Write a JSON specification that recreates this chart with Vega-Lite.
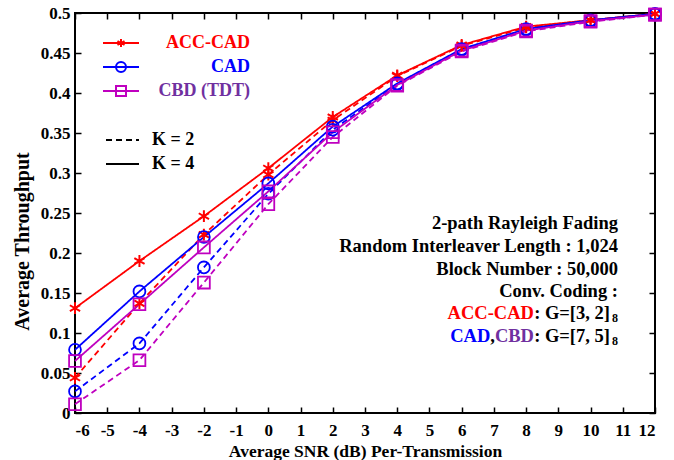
{
  "$schema": "https://vega.github.io/schema/vega-lite/v6.json",
  "width": 580,
  "height": 400,
  "autosize": "none",
  "padding": {"left": 75, "top": 13, "right": 19, "bottom": 47},
  "background": "white",
  "config": {
    "font": "Liberation Serif",
    "view": {"stroke": "black", "strokeWidth": 2},
    "axis": {"grid": false, "domain": false, "tickColor": "black", "tickWidth": 1.5, "tickSize": -6,
             "labelFont": "Liberation Serif", "labelFontWeight": "bold", "labelFontSize": 17, "labelColor": "black",
             "titleFont": "Liberation Serif", "titleFontWeight": "bold", "titleColor": "black"}
  },
  "data": {"values": [
    {"s": "ACC-CAD", "K": 4, "x": -6, "y": 0.131},
    {"s": "ACC-CAD", "K": 4, "x": -4, "y": 0.19},
    {"s": "ACC-CAD", "K": 4, "x": -2, "y": 0.246},
    {"s": "ACC-CAD", "K": 4, "x": 0, "y": 0.306},
    {"s": "ACC-CAD", "K": 4, "x": 2, "y": 0.37},
    {"s": "ACC-CAD", "K": 4, "x": 4, "y": 0.422},
    {"s": "ACC-CAD", "K": 4, "x": 6, "y": 0.46},
    {"s": "ACC-CAD", "K": 4, "x": 8, "y": 0.483},
    {"s": "ACC-CAD", "K": 4, "x": 10, "y": 0.491},
    {"s": "ACC-CAD", "K": 4, "x": 12, "y": 0.499},
    {"s": "ACC-CAD", "K": 2, "x": -6, "y": 0.044},
    {"s": "ACC-CAD", "K": 2, "x": -4, "y": 0.137},
    {"s": "ACC-CAD", "K": 2, "x": -2, "y": 0.223},
    {"s": "ACC-CAD", "K": 2, "x": 0, "y": 0.298},
    {"s": "ACC-CAD", "K": 2, "x": 2, "y": 0.366},
    {"s": "ACC-CAD", "K": 2, "x": 4, "y": 0.421},
    {"s": "ACC-CAD", "K": 2, "x": 6, "y": 0.459},
    {"s": "ACC-CAD", "K": 2, "x": 8, "y": 0.482},
    {"s": "ACC-CAD", "K": 2, "x": 10, "y": 0.491},
    {"s": "ACC-CAD", "K": 2, "x": 12, "y": 0.499},
    {"s": "CAD", "K": 4, "x": -6, "y": 0.079},
    {"s": "CAD", "K": 4, "x": -4, "y": 0.152},
    {"s": "CAD", "K": 4, "x": -2, "y": 0.22},
    {"s": "CAD", "K": 4, "x": 0, "y": 0.287},
    {"s": "CAD", "K": 4, "x": 2, "y": 0.358},
    {"s": "CAD", "K": 4, "x": 4, "y": 0.412},
    {"s": "CAD", "K": 4, "x": 6, "y": 0.455},
    {"s": "CAD", "K": 4, "x": 8, "y": 0.48},
    {"s": "CAD", "K": 4, "x": 10, "y": 0.491},
    {"s": "CAD", "K": 4, "x": 12, "y": 0.499},
    {"s": "CAD", "K": 2, "x": -6, "y": 0.027},
    {"s": "CAD", "K": 2, "x": -4, "y": 0.087},
    {"s": "CAD", "K": 2, "x": -2, "y": 0.182},
    {"s": "CAD", "K": 2, "x": 0, "y": 0.274},
    {"s": "CAD", "K": 2, "x": 2, "y": 0.354},
    {"s": "CAD", "K": 2, "x": 4, "y": 0.411},
    {"s": "CAD", "K": 2, "x": 6, "y": 0.454},
    {"s": "CAD", "K": 2, "x": 8, "y": 0.479},
    {"s": "CAD", "K": 2, "x": 10, "y": 0.49},
    {"s": "CAD", "K": 2, "x": 12, "y": 0.498},
    {"s": "CBD (TDT)", "K": 4, "x": -6, "y": 0.065},
    {"s": "CBD (TDT)", "K": 4, "x": -4, "y": 0.136},
    {"s": "CBD (TDT)", "K": 4, "x": -2, "y": 0.207},
    {"s": "CBD (TDT)", "K": 4, "x": 0, "y": 0.277},
    {"s": "CBD (TDT)", "K": 4, "x": 2, "y": 0.351},
    {"s": "CBD (TDT)", "K": 4, "x": 4, "y": 0.41},
    {"s": "CBD (TDT)", "K": 4, "x": 6, "y": 0.453},
    {"s": "CBD (TDT)", "K": 4, "x": 8, "y": 0.478},
    {"s": "CBD (TDT)", "K": 4, "x": 10, "y": 0.49},
    {"s": "CBD (TDT)", "K": 4, "x": 12, "y": 0.498},
    {"s": "CBD (TDT)", "K": 2, "x": -6, "y": 0.011},
    {"s": "CBD (TDT)", "K": 2, "x": -4, "y": 0.066},
    {"s": "CBD (TDT)", "K": 2, "x": -2, "y": 0.163},
    {"s": "CBD (TDT)", "K": 2, "x": 0, "y": 0.261},
    {"s": "CBD (TDT)", "K": 2, "x": 2, "y": 0.345},
    {"s": "CBD (TDT)", "K": 2, "x": 4, "y": 0.409},
    {"s": "CBD (TDT)", "K": 2, "x": 6, "y": 0.452},
    {"s": "CBD (TDT)", "K": 2, "x": 8, "y": 0.477},
    {"s": "CBD (TDT)", "K": 2, "x": 10, "y": 0.489},
    {"s": "CBD (TDT)", "K": 2, "x": 12, "y": 0.498}
  ]},
  "resolve": {"axis": {"x": "independent", "y": "independent"}},
  "layer": [
    {
      "mark": {"type": "line", "strokeWidth": 1.8},
      "encoding": {
        "x": {"field": "x", "type": "quantitative", "scale": {"domain": [-6, 12], "nice": false, "zero": false},
              "axis": {"orient": "bottom", "values": [-6,-5,-4,-3,-2,-1,0,1,2,3,4,5,6,7,8,9,10,11,12], "labelPadding": 15,
                       "labelExpr": "datum.value < 0 ? '-' + abs(datum.value) : '' + datum.value",
                       "title": "Average SNR (dB) Per-Transmission", "titleFontSize": 17.5, "titleY": 38, "titleBaseline": "middle"}},
        "y": {"field": "y", "type": "quantitative", "scale": {"domain": [0, 0.5], "nice": false},
              "axis": {"orient": "left", "values": [0,0.05,0.1,0.15,0.2,0.25,0.3,0.35,0.4,0.45,0.5], "format": "~g", "labelPadding": 11,
                       "title": "Average Throughput", "titleFontSize": 20, "titleX": -53, "titleY": 228, "titleBaseline": "middle", "titleAngle": -90}},
        "color": {"field": "s", "type": "nominal",
                  "scale": {"domain": ["ACC-CAD", "CAD", "CBD (TDT)"], "range": ["#FF0000", "#0000FF", "#BF00BF"]},
                  "legend": {"title": null, "orient": "none", "legendX": 37, "legendY": 21, "padding": 0,
                             "labelFont": "Liberation Serif", "labelFontWeight": "bold", "labelFontSize": 18,
                             "labelAlign": "right", "labelOffset": 120, "rowPadding": 6, "symbolSize": 100,
                             "symbolStrokeWidth": 2, "symbolFillColor": "transparent",
                             "symbolType": {"expr": "datum.value === 'ACC-CAD' ? 'M-3.6,0H3.6M0,-0.8V0.8M-0.7,-0.4L0.7,0.4M-0.7,0.4L0.7,-0.4' : datum.value === 'CAD' ? 'M-3.6,0H3.6M1,0A1,1,0,1,1,-1,0A1,1,0,1,1,1,0' : 'M-3.6,0H3.6M-1,-1H1V1H-1Z'"},
                             "labelColor": {"expr": "datum.value === 'ACC-CAD' ? '#FF0000' : datum.value === 'CAD' ? '#0000FF' : '#7030A0'"}}},
        "strokeDash": {"field": "K", "type": "nominal",
                       "scale": {"domain": [2, 4], "range": [[6, 4], [1, 0]]},
                       "legend": {"title": null, "orient": "none", "legendX": 27, "legendY": 118, "padding": 0,
                                  "labelExpr": "'K = ' + datum.label", "labelFont": "Liberation Serif", "labelFontWeight": "bold",
                                  "labelFontSize": 18, "labelColor": "black", "labelOffset": 32, "rowPadding": 6,
                                  "symbolType": "M-1,0H5.6", "symbolSize": 100, "symbolStrokeColor": "black", "symbolStrokeWidth": 2}}
      }
    },
    {
      "transform": [{"filter": "datum.s === 'ACC-CAD'"}],
      "mark": {"type": "point", "filled": false, "strokeWidth": 2, "size": 140, "opacity": 1, "color": "#FF0000",
               "shape": "M0,-1V1M-0.866,-0.5L0.866,0.5M-0.866,0.5L0.866,-0.5"},
      "encoding": {
        "x": {"field": "x", "type": "quantitative",
              "axis": {"orient": "top", "values": [-6,-5,-4,-3,-2,-1,0,1,2,3,4,5,6,7,8,9,10,11,12], "labels": false, "title": null}},
        "y": {"field": "y", "type": "quantitative",
              "axis": {"orient": "right", "values": [0,0.05,0.1,0.15,0.2,0.25,0.3,0.35,0.4,0.45,0.5], "labels": false, "title": null}}
      }
    },
    {
      "transform": [{"filter": "datum.s === 'CAD'"}],
      "mark": {"type": "point", "filled": false, "strokeWidth": 1.8, "size": 140, "opacity": 1, "color": "#0000FF", "shape": "circle"},
      "encoding": {
        "x": {"field": "x", "type": "quantitative", "axis": null},
        "y": {"field": "y", "type": "quantitative", "axis": null}
      }
    },
    {
      "transform": [{"filter": "datum.s === 'CBD (TDT)'"}],
      "mark": {"type": "point", "filled": false, "strokeWidth": 1.8, "size": 140, "opacity": 1, "color": "#BF00BF", "shape": "square"},
      "encoding": {
        "x": {"field": "x", "type": "quantitative", "axis": null},
        "y": {"field": "y", "type": "quantitative", "axis": null}
      }
    },
    {
      "data": {"values": [{}]},
      "mark": {"type": "text", "align": "right", "baseline": "middle", "font": "Liberation Serif", "fontWeight": "bold", "fontSize": 18.5, "color": "black", "text": "2-path Rayleigh Fading"},
      "encoding": {"x": {"datum": 10.85, "type": "quantitative", "axis": null}, "y": {"datum": 0.2375, "type": "quantitative", "axis": null}}
    },
    {
      "data": {"values": [{}]},
      "mark": {"type": "text", "align": "right", "baseline": "middle", "font": "Liberation Serif", "fontWeight": "bold", "fontSize": 18.5, "color": "black", "text": "Random Interleaver Length : 1,024"},
      "encoding": {"x": {"datum": 10.85, "type": "quantitative", "axis": null}, "y": {"datum": 0.209, "type": "quantitative", "axis": null}}
    },
    {
      "data": {"values": [{}]},
      "mark": {"type": "text", "align": "right", "baseline": "middle", "font": "Liberation Serif", "fontWeight": "bold", "fontSize": 18.5, "color": "black", "text": "Block Number : 50,000"},
      "encoding": {"x": {"datum": 10.85, "type": "quantitative", "axis": null}, "y": {"datum": 0.18, "type": "quantitative", "axis": null}}
    },
    {
      "data": {"values": [{}]},
      "mark": {"type": "text", "align": "right", "baseline": "middle", "font": "Liberation Serif", "fontWeight": "bold", "fontSize": 18.5, "color": "black", "text": "Conv. Coding :"},
      "encoding": {"x": {"datum": 10.85, "type": "quantitative", "axis": null}, "y": {"datum": 0.1525, "type": "quantitative", "axis": null}}
    },
    {
      "data": {"values": [{}]},
      "mark": {"type": "text", "align": "right", "baseline": "middle", "font": "Liberation Serif", "fontWeight": "bold", "fontSize": 18.5, "color": "#FF0000", "text": "ACC-CAD", "dx": -84},
      "encoding": {"x": {"datum": 10.85, "type": "quantitative", "axis": null}, "y": {"datum": 0.125, "type": "quantitative", "axis": null}}
    },
    {
      "data": {"values": [{}]},
      "mark": {"type": "text", "align": "right", "baseline": "middle", "font": "Liberation Serif", "fontWeight": "bold", "fontSize": 18.5, "color": "black", "text": ": G=[3, 2]", "dx": -8},
      "encoding": {"x": {"datum": 10.85, "type": "quantitative", "axis": null}, "y": {"datum": 0.125, "type": "quantitative", "axis": null}}
    },
    {
      "data": {"values": [{}]},
      "mark": {"type": "text", "align": "right", "baseline": "middle", "font": "Liberation Serif", "fontWeight": "bold", "fontSize": 12, "color": "black", "text": "8", "dy": 5},
      "encoding": {"x": {"datum": 10.85, "type": "quantitative", "axis": null}, "y": {"datum": 0.125, "type": "quantitative", "axis": null}}
    },
    {
      "data": {"values": [{}]},
      "mark": {"type": "text", "align": "right", "baseline": "middle", "font": "Liberation Serif", "fontWeight": "bold", "fontSize": 18.5, "color": "#0000FF", "text": "CAD", "dx": -127.6},
      "encoding": {"x": {"datum": 10.85, "type": "quantitative", "axis": null}, "y": {"datum": 0.096, "type": "quantitative", "axis": null}}
    },
    {
      "data": {"values": [{}]},
      "mark": {"type": "text", "align": "right", "baseline": "middle", "font": "Liberation Serif", "fontWeight": "bold", "fontSize": 18.5, "color": "black", "text": ",", "dx": -123},
      "encoding": {"x": {"datum": 10.85, "type": "quantitative", "axis": null}, "y": {"datum": 0.096, "type": "quantitative", "axis": null}}
    },
    {
      "data": {"values": [{}]},
      "mark": {"type": "text", "align": "right", "baseline": "middle", "font": "Liberation Serif", "fontWeight": "bold", "fontSize": 18.5, "color": "#7030A0", "text": "CBD", "dx": -84},
      "encoding": {"x": {"datum": 10.85, "type": "quantitative", "axis": null}, "y": {"datum": 0.096, "type": "quantitative", "axis": null}}
    },
    {
      "data": {"values": [{}]},
      "mark": {"type": "text", "align": "right", "baseline": "middle", "font": "Liberation Serif", "fontWeight": "bold", "fontSize": 18.5, "color": "black", "text": ": G=[7, 5]", "dx": -8},
      "encoding": {"x": {"datum": 10.85, "type": "quantitative", "axis": null}, "y": {"datum": 0.096, "type": "quantitative", "axis": null}}
    },
    {
      "data": {"values": [{}]},
      "mark": {"type": "text", "align": "right", "baseline": "middle", "font": "Liberation Serif", "fontWeight": "bold", "fontSize": 12, "color": "black", "text": "8", "dy": 5},
      "encoding": {"x": {"datum": 10.85, "type": "quantitative", "axis": null}, "y": {"datum": 0.096, "type": "quantitative", "axis": null}}
    }
  ]
}
